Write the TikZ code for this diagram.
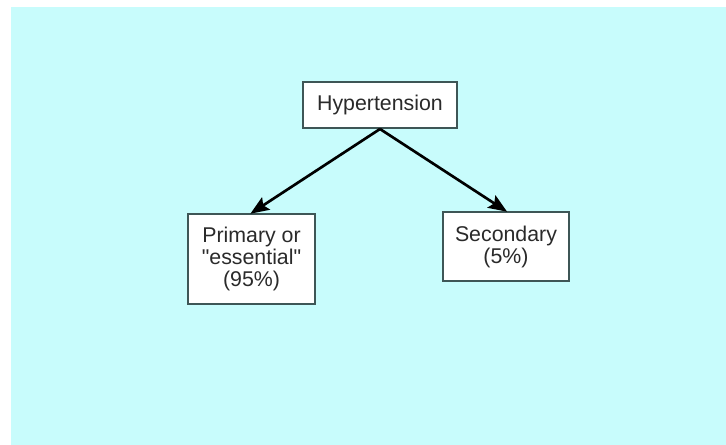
\documentclass[tikz,border=0pt]{standalone}
\usepackage{fontspec}
\setmainfont{Liberation Sans}
\usetikzlibrary{arrows.meta}
\definecolor{bgcyan}{HTML}{C8FCFC}
\definecolor{boxline}{HTML}{3E5656}
\definecolor{txt}{HTML}{2A2A2A}
\begin{document}
\begin{tikzpicture}[x=0.75pt,y=-0.75pt,
  box/.style={draw=boxline,line width=1.5pt,fill=white,text=txt,font=\fontsize{16}{16.5}\selectfont,align=center,inner sep=0pt,anchor=north west},
  conn/.style={line width=2pt,shorten >=-1pt,-{Stealth[length=14pt,width=11pt,inset=2.5pt]}}]
\useasboundingbox (0,0) rectangle (726,445);
\fill[bgcyan] (11,7) rectangle (726,445);
\node[box,minimum width=154*0.75pt,minimum height=46*0.75pt] (h) at (302,81) {Hypertension};
\node[box,minimum width=127*0.75pt,minimum height=90*0.75pt] (p) at (187,213) {Primary or\\\textquotedbl essential\textquotedbl\\(95\%)};
\node[box,minimum width=126*0.75pt,minimum height=69*0.75pt] (s) at (442,211) {Secondary\\(5\%)};
\draw[conn] (h.south) -- (p.north);
\draw[conn] (h.south) -- (s.north);
\end{tikzpicture}
\end{document}
